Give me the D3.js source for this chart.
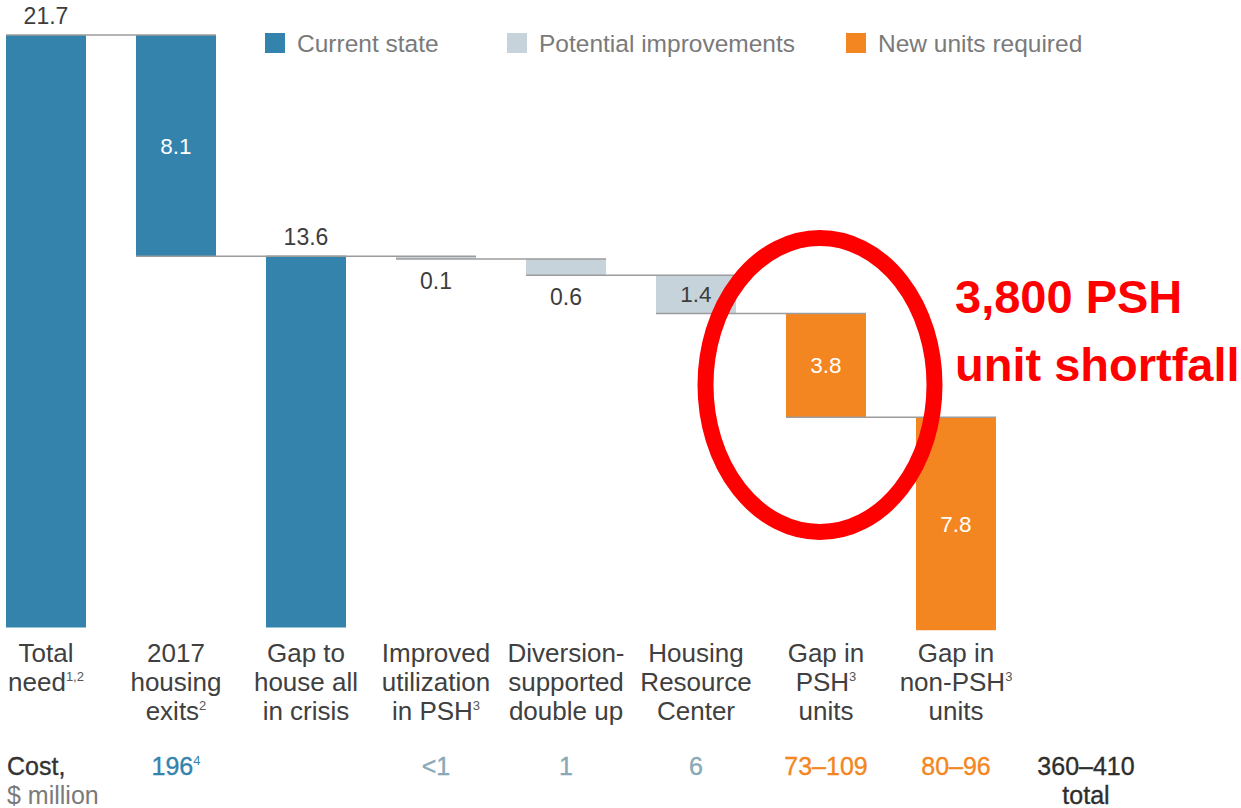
<!DOCTYPE html>
<html>
<head>
<meta charset="utf-8">
<script src="https://cdn.jsdelivr.net/npm/d3@7/dist/d3.min.js"></script>
<style>
  html, body { margin: 0; padding: 0; background: #ffffff; }
  svg { display: block; }
  text { font-family: "Liberation Sans", Arial, Helvetica, sans-serif; }
</style>
</head>
<body>
<svg id="chart" width="1241" height="808"></svg>
<script>
// ---- Data ----------------------------------------------------------------
const categories = [
  "Total need", "2017 housing exits", "Gap to house all in crisis",
  "Improved utilization in PSH", "Diversion-supported double up",
  "Housing Resource Center", "Gap in PSH units", "Gap in non-PSH units"
];
// each line: [text, superscript]
const labelLines = [
  [["Total"], ["need", "1,2"]],
  [["2017"], ["housing"], ["exits", "2"]],
  [["Gap to"], ["house all"], ["in crisis"]],
  [["Improved"], ["utilization"], ["in PSH", "3"]],
  [["Diversion-"], ["supported"], ["double up"]],
  [["Housing"], ["Resource"], ["Center"]],
  [["Gap in"], ["PSH", "3"], ["units"]],
  [["Gap in"], ["non-PSH", "3"], ["units"]]
];
const values = [21.7, 8.1, 13.6, 0.1, 0.6, 1.4, 3.8, 7.8];
// "total" bars rise from zero, "step" bars hang from the running level
const barTypes = ["total", "step", "total", "step", "step", "step", "step", "step"];
const groups = ["current", "current", "current", "potential", "potential", "potential", "new", "new"];
const legendLabels = ["Current state", "Potential improvements", "New units required"];
const costValues = ["", "196", "", "<1", "1", "6", "73–109", "80–96"];
const costSups = ["", "4", "", "", "", "", "", ""];
const costTotal = ["360–410", "total"];
const annotationLines = ["3,800 PSH", "unit shortfall"];

// ---- Styling -------------------------------------------------------------
const groupColor = { current: "#3383ad", potential: "#c6d3da", new: "#f48621" };
const costColor = { current: "#3383ad", potential: "#89a8b8", new: "#f48621" };
const labelPlacement = ["above", "inside", "above", "below", "below", "inside", "inside", "inside"];

const svg = d3.select("#chart");

// x: eight bars plus one extra column for the cost total
const columns = categories.concat(["__total"]);
const x = d3.scaleBand()
  .domain(columns)
  .range([-19, 1151])
  .paddingInner(50 / 130)
  .paddingOuter(25 / 130);

const y = d3.scaleLinear().domain([0, 21.7]).range([627.5, 35]);

// waterfall geometry
let level = 0;
const bars = values.map((v, i) => {
  let top, bottom;
  if (barTypes[i] === "total") {
    top = v; bottom = 0; level = v;
  } else {
    top = level; bottom = level - v; level = bottom;
  }
  return { cat: categories[i], value: v, top, bottom, group: groups[i], place: labelPlacement[i] };
});

// bars
svg.append("g").selectAll("rect")
  .data(bars)
  .join("rect")
  .attr("x", d => x(d.cat))
  .attr("width", x.bandwidth())
  .attr("y", d => y(d.top))
  .attr("height", d => Math.max(1, y(d.bottom) - y(d.top)))
  .attr("fill", d => groupColor[d.group]);

// connectors: the level where bar i+1 starts, from bar i's left edge to bar i+1's right edge
const connectors = [];
for (let i = 0; i < bars.length - 1; i++) {
  connectors.push({ a: bars[i].cat, b: bars[i + 1].cat, lvl: bars[i + 1].top });
}
svg.append("g").selectAll("line")
  .data(connectors)
  .join("line")
  .attr("x1", d => x(d.a))
  .attr("x2", d => x(d.b) + x.bandwidth())
  .attr("y1", d => y(d.lvl))
  .attr("y2", d => y(d.lvl))
  .attr("stroke", "#9c9c9c")
  .attr("stroke-width", 1.5);

// value labels
svg.append("g").selectAll("text")
  .data(bars)
  .join("text")
  .attr("x", d => x(d.cat) + x.bandwidth() / 2)
  .attr("y", d => {
    if (d.place === "above") return y(d.top) - 11;
    if (d.place === "below") return y(d.bottom) + 30;
    return (y(d.top) + y(d.bottom)) / 2 + 8;
  })
  .attr("text-anchor", "middle")
  .attr("font-size", d => d.place === "inside" ? 22.5 : 23)
  .attr("fill", d => (d.place !== "inside" || d.group === "potential") ? "#3d3d3d" : "#ffffff")
  .text(d => d.value.toFixed(1));

// category labels
const catG = svg.append("g");
labelLines.forEach((lines, i) => {
  const cx = x(categories[i]) + x.bandwidth() / 2;
  const t = catG.append("text")
    .attr("x", cx)
    .attr("y", 662)
    .attr("text-anchor", "middle")
    .attr("font-size", 26)
    .attr("fill", "#404040");
  lines.forEach((ln, j) => {
    const line = t.append("tspan")
      .attr("x", cx)
      .attr("y", 662 + j * 29);
    line.append("tspan").text(ln[0]);
    if (ln[1]) {
      line.append("tspan")
        .attr("font-size", 13)
        .attr("dy", -10)
        .attr("fill", "#555555")
        .text(ln[1]);
    }
  });
});

// legend
const legendX = [265, 507, 846];
const legendGroups = ["current", "potential", "new"];
const leg = svg.append("g");
legendLabels.forEach((lab, i) => {
  leg.append("rect")
    .attr("x", legendX[i]).attr("y", 33)
    .attr("width", 20).attr("height", 20)
    .attr("fill", groupColor[legendGroups[i]]);
  leg.append("text")
    .attr("x", legendX[i] + 32).attr("y", 51.5)
    .attr("font-size", 24.5)
    .attr("fill", "#7a7a7a")
    .text(lab);
});

// cost row
const cost = svg.append("g");
cost.append("text")
  .attr("x", 7).attr("y", 775)
  .attr("font-size", 25).attr("fill", "#333333")
  .attr("stroke", "#333333").attr("stroke-width", 0.35)
  .text("Cost,");
cost.append("text")
  .attr("x", 7).attr("y", 804)
  .attr("font-size", 25).attr("fill", "#7a7a7a")
  .text("$ million");
costValues.forEach((c, i) => {
  if (!c) return;
  const col = costColor[groups[i]];
  const t = cost.append("text")
    .attr("x", x(categories[i]) + x.bandwidth() / 2)
    .attr("y", 775)
    .attr("text-anchor", "middle")
    .attr("font-size", 25)
    .attr("fill", col)
    .attr("stroke", col).attr("stroke-width", 0.35);
  t.append("tspan").text(c);
  if (costSups[i]) {
    t.append("tspan").attr("font-size", 13).attr("stroke-width", 0).attr("dy", -10).text(costSups[i]);
  }
});
costTotal.forEach((c, j) => {
  cost.append("text")
    .attr("x", x("__total") + x.bandwidth() / 2)
    .attr("y", 775 + j * 29)
    .attr("text-anchor", "middle")
    .attr("font-size", 25)
    .attr("fill", "#2e2e2e")
    .attr("stroke", "#2e2e2e").attr("stroke-width", 0.35)
    .text(c);
});

// highlight around the PSH gap
const focus = x(categories[6]) + x.bandwidth() / 2;
svg.append("ellipse")
  .attr("cx", focus - 6)
  .attr("cy", 385)
  .attr("rx", 114.5)
  .attr("ry", 147)
  .attr("fill", "none")
  .attr("stroke", "#ff0000")
  .attr("stroke-width", 16);

svg.append("g").selectAll("text")
  .data(annotationLines)
  .join("text")
  .attr("x", 955)
  .attr("y", (d, i) => 313 + i * 68)
  .attr("font-family", "Lato, 'Open Sans', sans-serif")
  .attr("font-weight", 700)
  .attr("font-size", 47)
  .attr("fill", "#ff0000")
  .text(d => d);
</script>
</body>
</html>
